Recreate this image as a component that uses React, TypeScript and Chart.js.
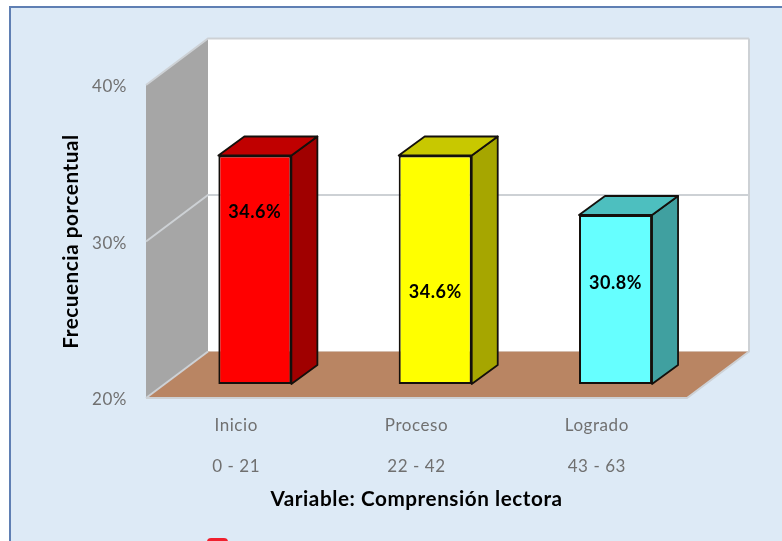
import React, { useEffect, useRef } from "react";
import { Chart, registerables } from "chart.js";

Chart.register(...registerables);

const categories = [["Inicio", "0 - 21"], ["Proceso", "22 - 42"], ["Logrado", "43 - 63"]];
const percentages = [34.6, 34.6, 30.8];
const labelAnchorValues = [30.95, 25.85, 26.45];
const frontColors = ["#FF0000", "#FFFF00", "#66FFFF"];
const sideColors = ["#A00000", "#A6A600", "#40A0A0"];
const topColors = ["#C00000", "#C8C800", "#4DBFBF"];
const yTicks = [20, 30, 40];

const FONT = "Lato, Carlito, sans-serif";
const WALL_DEPTH = { x: 62, y: -46.5 };
const BAR_OFFSET = { x: 18.7, y: -14 };
const BAR_DEPTH = { x: 26, y: -19 };

const poly = (ctx: CanvasRenderingContext2D, pts: number[][], fill?: string, stroke?: string, lw = 1) => {
  ctx.beginPath();
  pts.forEach(([x, y], i) => (i ? ctx.lineTo(x, y) : ctx.moveTo(x, y)));
  ctx.closePath();
  if (fill) {
    ctx.fillStyle = fill;
    ctx.fill();
  }
  if (stroke) {
    ctx.strokeStyle = stroke;
    ctx.lineWidth = lw;
    ctx.lineJoin = "round";
    ctx.stroke();
  }
};

const stage3d = {
  id: "stage3d",
  beforeDraw(chart: any) {
    chart.ctx.letterSpacing = "0.55px";
  },
  beforeDatasetsDraw(chart: any) {
    const { ctx, chartArea: a, scales } = chart;
    const dx = WALL_DEPTH.x;
    const dy = WALL_DEPTH.y;
    ctx.save();
    poly(ctx, [[a.left + dx, a.top + dy], [a.right + dx, a.top + dy], [a.right + dx, a.bottom + dy], [a.left + dx, a.bottom + dy]], "#FFFFFF");
    poly(ctx, [[a.left, a.top], [a.left + dx, a.top + dy], [a.left + dx, a.bottom + dy], [a.left, a.bottom]], "#A6A6A6");
    poly(ctx, [[a.left, a.bottom], [a.left + dx, a.bottom + dy], [a.right + dx, a.bottom + dy], [a.right, a.bottom]], "#B98563");
    ctx.lineWidth = 2;
    ctx.strokeStyle = "#CDD1D5";
    yTicks.forEach((v) => {
      const y = scales.y.getPixelForValue(v);
      ctx.beginPath();
      ctx.moveTo(a.left, y);
      ctx.lineTo(a.left + dx, y + dy);
      if (v !== yTicks[0]) ctx.lineTo(a.right + dx, y + dy);
      ctx.stroke();
    });
    ctx.beginPath();
    ctx.moveTo(a.left, a.bottom);
    ctx.lineTo(a.right, a.bottom);
    ctx.lineTo(a.right + dx, a.bottom + dy);
    ctx.lineTo(a.right + dx, a.top + dy);
    ctx.stroke();
    ctx.restore();
    // legend marker cut off by the bottom of the picture
    ctx.save();
    ctx.fillStyle = "#F0202E";
    ctx.beginPath();
    ctx.roundRect(207, 538, 21, 12, 4);
    ctx.fill();
    ctx.restore();
  },
  beforeDatasetDraw(chart: any) {
    chart.ctx.save();
    chart.ctx.translate(BAR_OFFSET.x, BAR_OFFSET.y);
  },
  afterDatasetDraw(chart: any, args: any) {
    const { ctx } = chart;
    const stroke = "#14100C";
    args.meta.data.forEach((bar: any, i: number) => {
      const hw = bar.width / 2;
      const l = bar.x - hw;
      const r = bar.x + hw;
      const t = bar.y;
      const b = bar.base;
      const dx = BAR_DEPTH.x;
      const dy = BAR_DEPTH.y;
      poly(ctx, [[r, t], [r + dx, t + dy], [r + dx, b + dy], [r, b]], sideColors[i], stroke, 1.8);
      poly(ctx, [[l, t], [l + dx, t + dy], [r + dx, t + dy], [r, t]], topColors[i], stroke, 1.8);
    });
    ctx.fillStyle = "#000000";
    ctx.font = `bold 18px ${FONT}`;
    ctx.textAlign = "center";
    ctx.textBaseline = "middle";
    args.meta.data.forEach((bar: any, i: number) => {
      ctx.fillText(`${percentages[i].toFixed(1)}%`, bar.x, chart.scales.y.getPixelForValue(labelAnchorValues[i]));
    });
    ctx.restore();
  },
};

export default function App() {
  const ref = useRef<HTMLCanvasElement>(null);
  useEffect(() => {
    const chart = new Chart(ref.current as HTMLCanvasElement, {
      type: "bar",
      data: {
        labels: categories as any,
        datasets: [
          {
            data: percentages,
            base: 20,
            backgroundColor: frontColors,
            borderColor: "#14100C",
            borderWidth: 2,
            borderSkipped: false,
            barPercentage: 0.405,
            categoryPercentage: 1,
            clip: false as any,
          },
        ],
      },
      options: {
        responsive: false,
        animation: false,
        layout: { padding: { left: 56, right: 95, top: 85, bottom: 28 } },
        plugins: { legend: { display: false }, tooltip: { enabled: false } },
        scales: {
          x: {
            grid: { display: false, drawTicks: false },
            border: { display: false },
            afterFit: (s: any) => {
              s.height = 115;
            },
            ticks: {
              color: "#707070",
              font: { family: FONT, size: 17, lineHeight: "41px" as any },
              padding: 7,
              maxRotation: 0,
            },
            title: {
              display: true,
              text: "Variable: Comprensión lectora",
              color: "#000000",
              font: { family: FONT, size: 20.7, weight: "bold" },
              padding: { top: 0, bottom: 1 },
            },
          },
          y: {
            min: 20,
            max: 40,
            grid: { display: false, drawTicks: false },
            border: { display: false },
            afterFit: (s: any) => {
              s.width = 90;
            },
            ticks: {
              stepSize: 10,
              color: "#707070",
              font: { family: FONT, size: 17, lineHeight: "4px" as any },
              padding: 19,
              callback: (v: any) => ["", `${v}%`],
            },
            title: {
              display: true,
              text: "Frecuencia porcentual",
              color: "#000000",
              font: { family: FONT, size: 20.7, weight: "bold" },
              padding: { top: 3, bottom: 0 },
            },
          },
        },
      },
      plugins: [stage3d],
    } as any);
    return () => chart.destroy();
  }, []);

  return (
    <div style={{ position: "absolute", left: 0, top: 0, width: 782, height: 541, overflow: "hidden", background: "#FFFFFF" }}>
      <div
        style={{
          position: "absolute",
          left: 9,
          top: 6,
          width: 773,
          height: 535,
          boxSizing: "border-box",
          background: "#DDEAF6",
          borderLeft: "2px solid #5F7FB3",
          borderTop: "2px solid #5F7FB3",
        }}
      />
      <canvas ref={ref} width={782} height={541} style={{ position: "absolute", left: 0, top: 0, display: "block" }} />
    </div>
  );
}
